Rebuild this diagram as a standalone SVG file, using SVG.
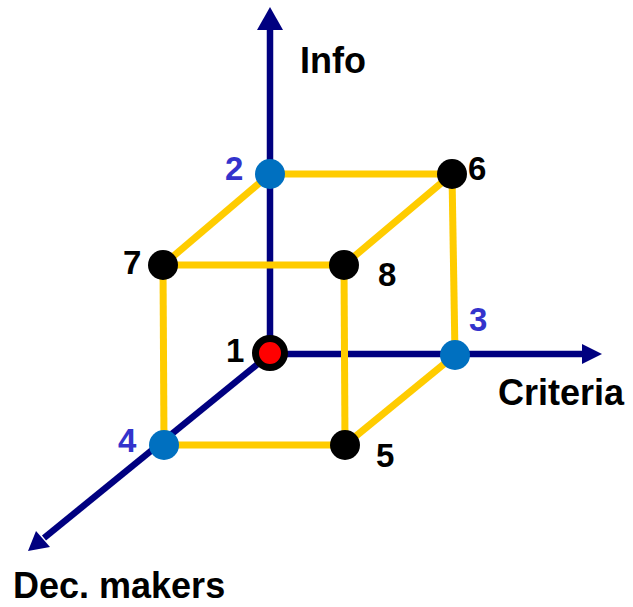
<svg xmlns="http://www.w3.org/2000/svg" width="633" height="607" viewBox="0 0 633 607">
<style>
.ax{stroke:#000080;stroke-width:6.5;fill:none}
.ah{fill:#000080}
.ed{stroke:#FFCC00;stroke-width:7;fill:none}
.blk{fill:#000}
.blu{fill:#0070C0}
.t{font-family:"Liberation Sans",Arial,sans-serif;font-weight:bold;font-size:36px;fill:#000}
.n{font-family:"Liberation Sans",Arial,sans-serif;font-weight:bold;font-size:33px;fill:#000}
.nb{fill:#3333CC}
</style>
<rect width="633" height="607" fill="#fff"/>
<g id="connectors">
<line class="ax" x1="270" y1="354" x2="270" y2="26"/>
<polygon class="ah" points="270,7 283,30 257,30"/>
<line class="ax" x1="270" y1="354" x2="585" y2="354"/>
<polygon class="ah" points="602,354 582,344 582,364"/>
<line class="ax" x1="270" y1="354" x2="44" y2="538"/>
<polygon class="ah" points="28,551 36,531 50,547"/>
<line class="ed" x1="270" y1="174" x2="452" y2="174"/>
<line class="ed" x1="270" y1="174" x2="163" y2="265"/>
<line class="ed" x1="163" y1="265" x2="344" y2="265"/>
<line class="ed" x1="344" y1="265" x2="452" y2="174"/>
<line class="ed" x1="452" y1="174" x2="455" y2="355"/>
<line class="ed" x1="163" y1="265" x2="164" y2="445"/>
<line class="ed" x1="164" y1="445" x2="345" y2="445"/>
<line class="ed" x1="345" y1="445" x2="455" y2="355"/>
<line class="ed" x1="344" y1="265" x2="345" y2="445"/>
</g>
<g id="node1"><circle cx="270" cy="353" r="14.5" fill="#FF0000" stroke="#000" stroke-width="7"/><text class="n" x="226" y="362">1</text></g>
<g id="node2"><circle class="blu" cx="270" cy="174" r="15"/><text class="n nb" x="225" y="180">2</text></g>
<g id="node3"><circle class="blu" cx="455" cy="355" r="15"/><text class="n nb" x="469" y="331">3</text></g>
<g id="node4"><circle class="blu" cx="164" cy="445" r="15"/><text class="n nb" x="118" y="452">4</text></g>
<g id="node5"><circle class="blk" cx="345" cy="445" r="15"/><text class="n" x="376" y="467">5</text></g>
<g id="node6"><circle class="blk" cx="452" cy="174" r="15"/><text class="n" x="468" y="180">6</text></g>
<g id="node7"><circle class="blk" cx="163" cy="265" r="15"/><text class="n" x="123" y="274">7</text></g>
<g id="node8"><circle class="blk" cx="344" cy="265" r="15"/><text class="n" x="378" y="286">8</text></g>
<g id="labels">
<text class="t" x="300" y="73">Info</text>
<text class="t" x="498" y="405">Criteria</text>
<text class="t" x="13" y="598">Dec. makers</text>
</g>
</svg>
